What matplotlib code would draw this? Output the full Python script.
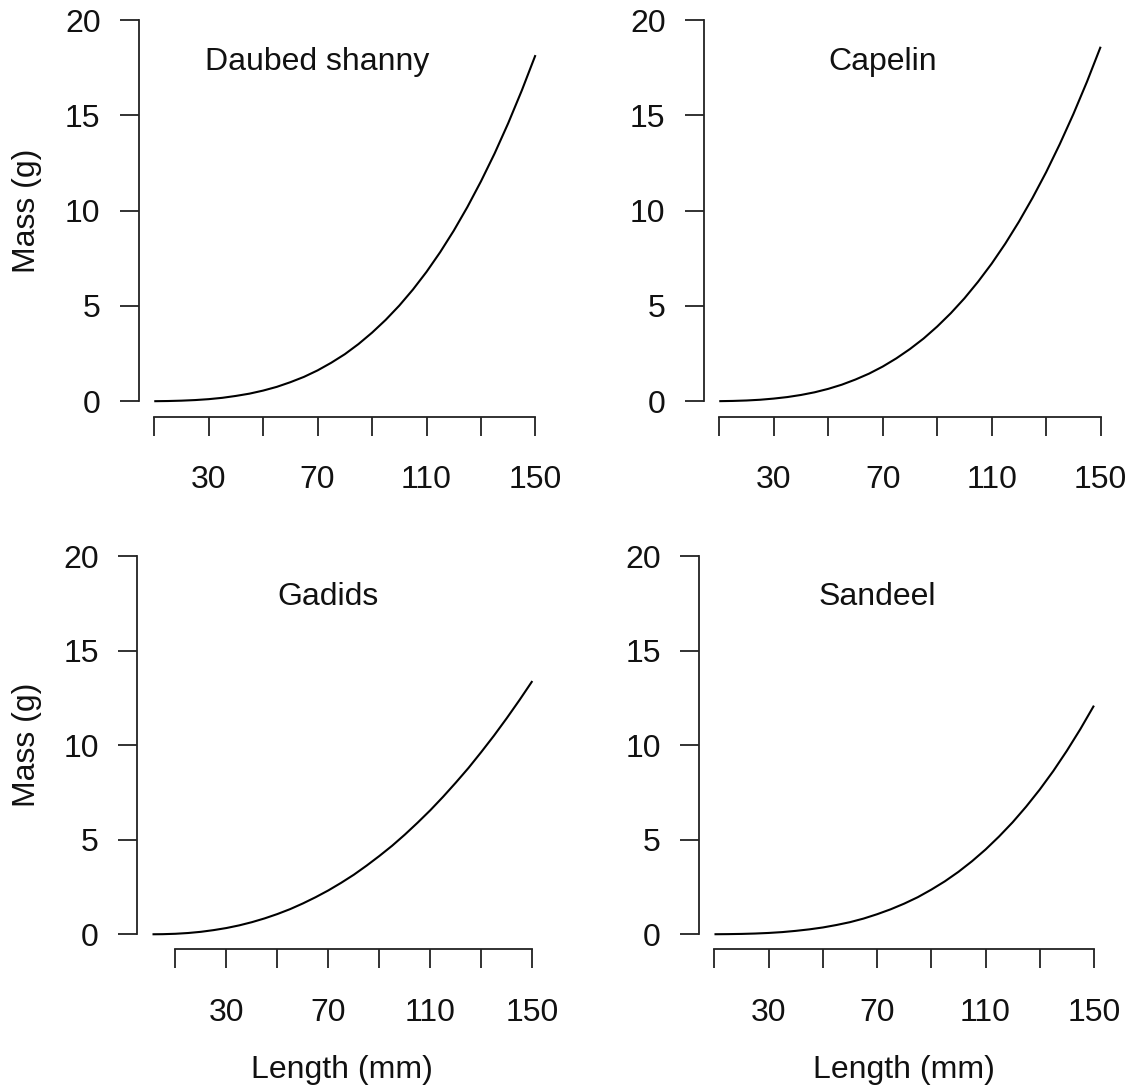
import matplotlib
matplotlib.use("Agg")
import matplotlib.pyplot as plt
import matplotlib.transforms as mtransforms

plt.rcParams['font.family'] = ['Liberation Sans', 'DejaVu Sans']

# ---- data ----
species = ["Daubed shanny", "Capelin", "Gadids", "Sandeel"]

len_shanny = [10, 15, 20, 25, 30, 35, 40, 45, 50, 55, 60, 65, 70, 75, 80, 85, 90, 95,
              100, 105, 110, 115, 120, 125, 130, 135, 140, 145, 150]
mass_shanny = [0.003, 0.012, 0.031, 0.062, 0.11, 0.18, 0.28, 0.40, 0.56, 0.755, 1.00, 1.28,
               1.62, 2.02, 2.47, 3.00, 3.60, 4.27, 5.02, 5.86, 6.79, 7.82, 8.95, 10.19,
               11.54, 13.00, 14.59, 16.31, 18.16]

len_capelin = [10, 15, 20, 25, 30, 35, 40, 45, 50, 55, 60, 65, 70, 75, 80, 85, 90, 95,
               100, 105, 110, 115, 120, 125, 130, 135, 140, 145, 150]
mass_capelin = [0.005, 0.017, 0.040, 0.079, 0.14, 0.22, 0.33, 0.47, 0.65, 0.87, 1.14, 1.45,
                1.82, 2.25, 2.74, 3.29, 3.92, 4.62, 5.40, 6.27, 7.22, 8.27, 9.42, 10.67,
                12.02, 13.49, 15.07, 16.77, 18.60]

len_gadids = [1, 5, 10, 15, 20, 25, 30, 35, 40, 45, 50, 55, 60, 65, 70, 75, 80, 85, 90, 95,
              100, 105, 110, 115, 120, 125, 130, 135, 140, 145, 150]
mass_gadids = [0.0, 0.005, 0.026, 0.067, 0.13, 0.22, 0.33, 0.47, 0.64, 0.84, 1.07, 1.33,
               1.63, 1.96, 2.32, 2.72, 3.15, 3.63, 4.14, 4.68, 5.27, 5.90, 6.56, 7.27,
               8.02, 8.80, 9.64, 10.51, 11.43, 12.39, 13.39]

len_sandeel = [10, 15, 20, 25, 30, 35, 40, 45, 50, 55, 60, 65, 70, 75, 80, 85, 90, 95,
               100, 105, 110, 115, 120, 125, 130, 135, 140, 145, 150]
mass_sandeel = [0.002, 0.008, 0.019, 0.039, 0.07, 0.115, 0.18, 0.26, 0.36, 0.49, 0.64, 0.83,
                1.06, 1.32, 1.62, 1.96, 2.36, 2.80, 3.30, 3.86, 4.48, 5.17, 5.92, 6.75,
                7.65, 8.63, 9.70, 10.85, 12.09]

x_ticks = [10, 30, 50, 70, 90, 110, 130, 150]
x_ticklabels = ["", "30", "", "70", "", "110", "", "150"]
y_ticks = [0, 5, 10, 15, 20]
y_ticklabels = ["0", "5", "10", "15", "20"]

x_label = "Length (mm)"
y_label = "Mass (g)"

# ---- layout ----
W, H = 1131, 1086
fig = plt.figure(figsize=(W / 100, H / 100), dpi=100)

def px_axes(left, right, top, bottom):
    return fig.add_axes([left / W, (H - bottom) / H, (right - left) / W, (bottom - top) / H])

panels = [
    (px_axes(139.0, 550.7, 4.8, 416.5), len_shanny, mass_shanny, species[0], (4.4, 155.6), True, False),
    (px_axes(704.0, 1115.9, 4.8, 416.5), len_capelin, mass_capelin, species[1], (4.4, 155.6), False, False),
    (px_axes(137.3, 547.5, 540.9, 949.4), len_gadids, mass_gadids, species[2], (-4.96, 155.96), True, True),
    (px_axes(699.3, 1109.1, 540.9, 949.4), len_sandeel, mass_sandeel, species[3], (4.4, 155.6), False, True),
]

FS = 23
for ax, xs, ys, name, xlim, show_ylab, show_xlab in panels:
    ax.plot(xs, ys, color="black", lw=1.5, solid_capstyle="butt", solid_joinstyle="round")
    ax.set_xlim(*xlim)
    ax.set_ylim(-0.8, 20.8)
    for s in ("top", "right"):
        ax.spines[s].set_visible(False)
    ax.spines["left"].set_bounds(0, 20)
    ax.spines["bottom"].set_bounds(10, 150)
    for s in ("left", "bottom"):
        ax.spines[s].set_linewidth(1.3)
        ax.spines[s].set_color("#222222")
    ax.set_xticks(x_ticks)
    ax.set_xticklabels(x_ticklabels)
    ax.set_yticks(y_ticks)
    ax.set_yticklabels(y_ticklabels)
    ax.tick_params(axis="both", direction="out", length=13.7, width=1.3,
                   color="#222222", labelsize=FS, labelcolor="#111111")
    ax.tick_params(axis="x", pad=21.5)
    ax.tick_params(axis="y", pad=14)
    ax.patch.set_visible(False)
    off = mtransforms.offset_copy(ax.transData, fig=fig, x=0, y=-11.5, units="dots")
    ax.text(70, 18, name, ha="center", va="baseline", fontsize=FS, color="#111111", transform=off)
    if show_ylab:
        pos = ax.get_position()
        fig.text(27.5 / W, pos.y0 + pos.height / 2, y_label, rotation=90,
                 ha="center", va="center", fontsize=FS, color="#111111")
    if show_xlab:
        pos = ax.get_position()
        fig.text(pos.x0 + pos.width / 2, 8 / H, x_label, ha="center", va="baseline",
                 fontsize=FS, color="#111111")

fig.savefig("out.png", dpi=100, facecolor="white")
